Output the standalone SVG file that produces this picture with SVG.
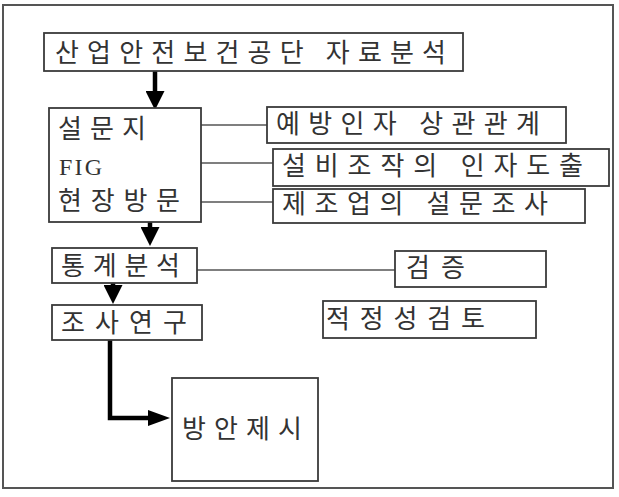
<svg xmlns="http://www.w3.org/2000/svg" width="619" height="497" viewBox="0 0 619 497">
<style>
.frame{fill:#fff;stroke:#555;stroke-width:2}
.box{fill:#fff;stroke:#3a3a3a;stroke-width:1.8}
.t{font-family:"Noto Sans CJK KR","Noto Sans",sans-serif;font-size:26px;fill:#333}
.lat{font-family:"Liberation Serif",serif;font-size:24px;fill:#333}
.thin{fill:none;stroke:#555;stroke-width:1.6}
.thick{fill:none;stroke:#000;stroke-width:4.5}
</style>
<defs>
<marker id="ah" markerUnits="userSpaceOnUse" markerWidth="19" markerHeight="19" refX="0" refY="9.5" orient="auto" viewBox="0 0 19 19">
<path d="M0,0 L19,9.5 L0,19 z" fill="#000"/>
</marker>
<marker id="ahs" markerUnits="userSpaceOnUse" markerWidth="22" markerHeight="16" refX="0" refY="8" orient="auto" viewBox="0 0 22 16">
<path d="M0,0 L22,8 L0,16 z" fill="#000"/>
</marker>
</defs>
<rect class="frame" x="3" y="5" width="610" height="483"/>
<g id="connectors">
<line class="thick" x1="155" y1="71" x2="155" y2="91" marker-end="url(#ah)"/>
<line class="thick" x1="150" y1="222" x2="150" y2="227" marker-end="url(#ah)"/>
<line class="thick" x1="113" y1="283" x2="113" y2="285" marker-end="url(#ah)"/>
<path class="thick" d="M110,340 V418 H148" marker-end="url(#ahs)"/>
<line class="thin" x1="201" y1="125" x2="267" y2="125"/>
<line class="thin" x1="201" y1="163" x2="273" y2="163"/>
<line class="thin" x1="201" y1="202" x2="273" y2="202"/>
<line class="thin" x1="197" y1="270" x2="395" y2="270"/>
</g>
<g id="n-source">
<rect class="box" x="44" y="33" width="419" height="38"/>
<text class="t" x="55" y="62" font-size="27" textLength="391" lengthAdjust="spacing">산업안전보건공단 자료분석</text>
</g>
<g id="n-methods">
<rect class="box" x="49" y="108" width="152" height="114"/>
<text class="t" x="58" y="138" textLength="88" lengthAdjust="spacing">설문지</text>
<text class="lat" x="59" y="175" textLength="43" lengthAdjust="spacing">FIG</text>
<text class="t" x="58" y="210" textLength="122" lengthAdjust="spacing">현장방문</text>
</g>
<g id="n-corr">
<rect class="box" x="267" y="107" width="299" height="36"/>
<text class="t" x="276" y="133" textLength="264" lengthAdjust="spacing">예방인자 상관관계</text>
</g>
<g id="n-factor">
<rect class="box" x="273" y="149" width="336" height="37"/>
<text class="t" x="282" y="175" textLength="301" lengthAdjust="spacing">설비조작의 인자도출</text>
</g>
<g id="n-survey">
<rect class="box" x="273" y="189" width="312" height="34"/>
<text class="t" x="282" y="213" textLength="266" lengthAdjust="spacing">제조업의 설문조사</text>
</g>
<g id="n-stats">
<rect class="box" x="52" y="248" width="145" height="35"/>
<text class="t" x="61" y="275" textLength="119" lengthAdjust="spacing">통계분석</text>
</g>
<g id="n-verify">
<rect class="box" x="395" y="251" width="151" height="36"/>
<text class="t" x="406" y="277" textLength="59" lengthAdjust="spacing">검증</text>
</g>
<g id="n-research">
<rect class="box" x="52" y="305" width="150" height="35"/>
<text class="t" x="61" y="332" textLength="126" lengthAdjust="spacing">조사연구</text>
</g>
<g id="n-adequacy">
<rect class="box" x="323" y="301" width="213" height="37"/>
<text class="t" x="326" y="328" textLength="159" lengthAdjust="spacing">적정성검토</text>
</g>
<g id="n-proposal">
<rect class="box" x="172" y="378" width="146" height="103"/>
<text class="t" x="182" y="438" textLength="120" lengthAdjust="spacing">방안제시</text>
</g>
</svg>
